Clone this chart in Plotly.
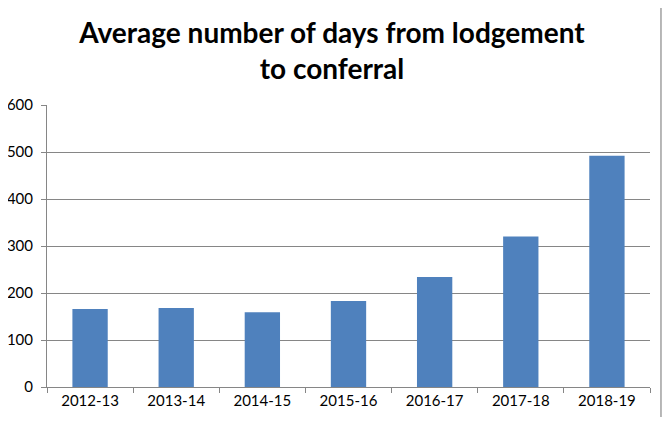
import plotly.graph_objects as go

categories = ["2012-13", "2013-14", "2014-15", "2015-16", "2016-17", "2017-18", "2018-19"]
avg_days = [166, 168, 159, 183, 234, 320, 492]
y_ticks = [0, 100, 200, 300, 400, 500, 600]

fig = go.Figure(go.Bar(x=categories, y=avg_days, marker_color="#4F81BD", marker_line_width=0))

# page body adds an 8px offset, so the figure is sized/margined to compensate
fig.update_layout(
    width=654, height=409,
    margin=dict(l=39, r=12, t=97, b=30, autoexpand=False),
    paper_bgcolor="white", plot_bgcolor="white",
    bargap=0.59,
    showlegend=False,
    font=dict(family="Lato", color="#000000"),
    title=dict(
        text="<b>Average number of days from lodgement<br>to conferral</b>",
        x=0.4954, xanchor="center", y=0.9144, yanchor="top",
        font=dict(family="Lato", size=28, color="#000000"),
    ),
)
fig.update_xaxes(
    type="category", tickson="boundaries", ticks="outside", ticklen=5,
    tickcolor="#868686", showline=True, linecolor="#868686", linewidth=1,
    showgrid=False, tickfont=dict(size=15, family="Lato"),
)
fig.update_yaxes(
    range=[0, 600], tickvals=y_ticks, ticks="outside", ticklen=5,
    tickcolor="#868686", showline=True, linecolor="#868686", linewidth=1,
    showgrid=True, gridcolor="#868686", gridwidth=1, zeroline=False,
    tickfont=dict(size=15, family="Lato"), ticklabelstandoff=5,
)
fig.add_shape(type="line", xref="paper", yref="paper", x0=1.0182, x1=1.0182, y0=-0.2, y1=1.5,
              line=dict(color="#A0A0A0", width=1.5), layer="above")

fig.write_html("out.html")
